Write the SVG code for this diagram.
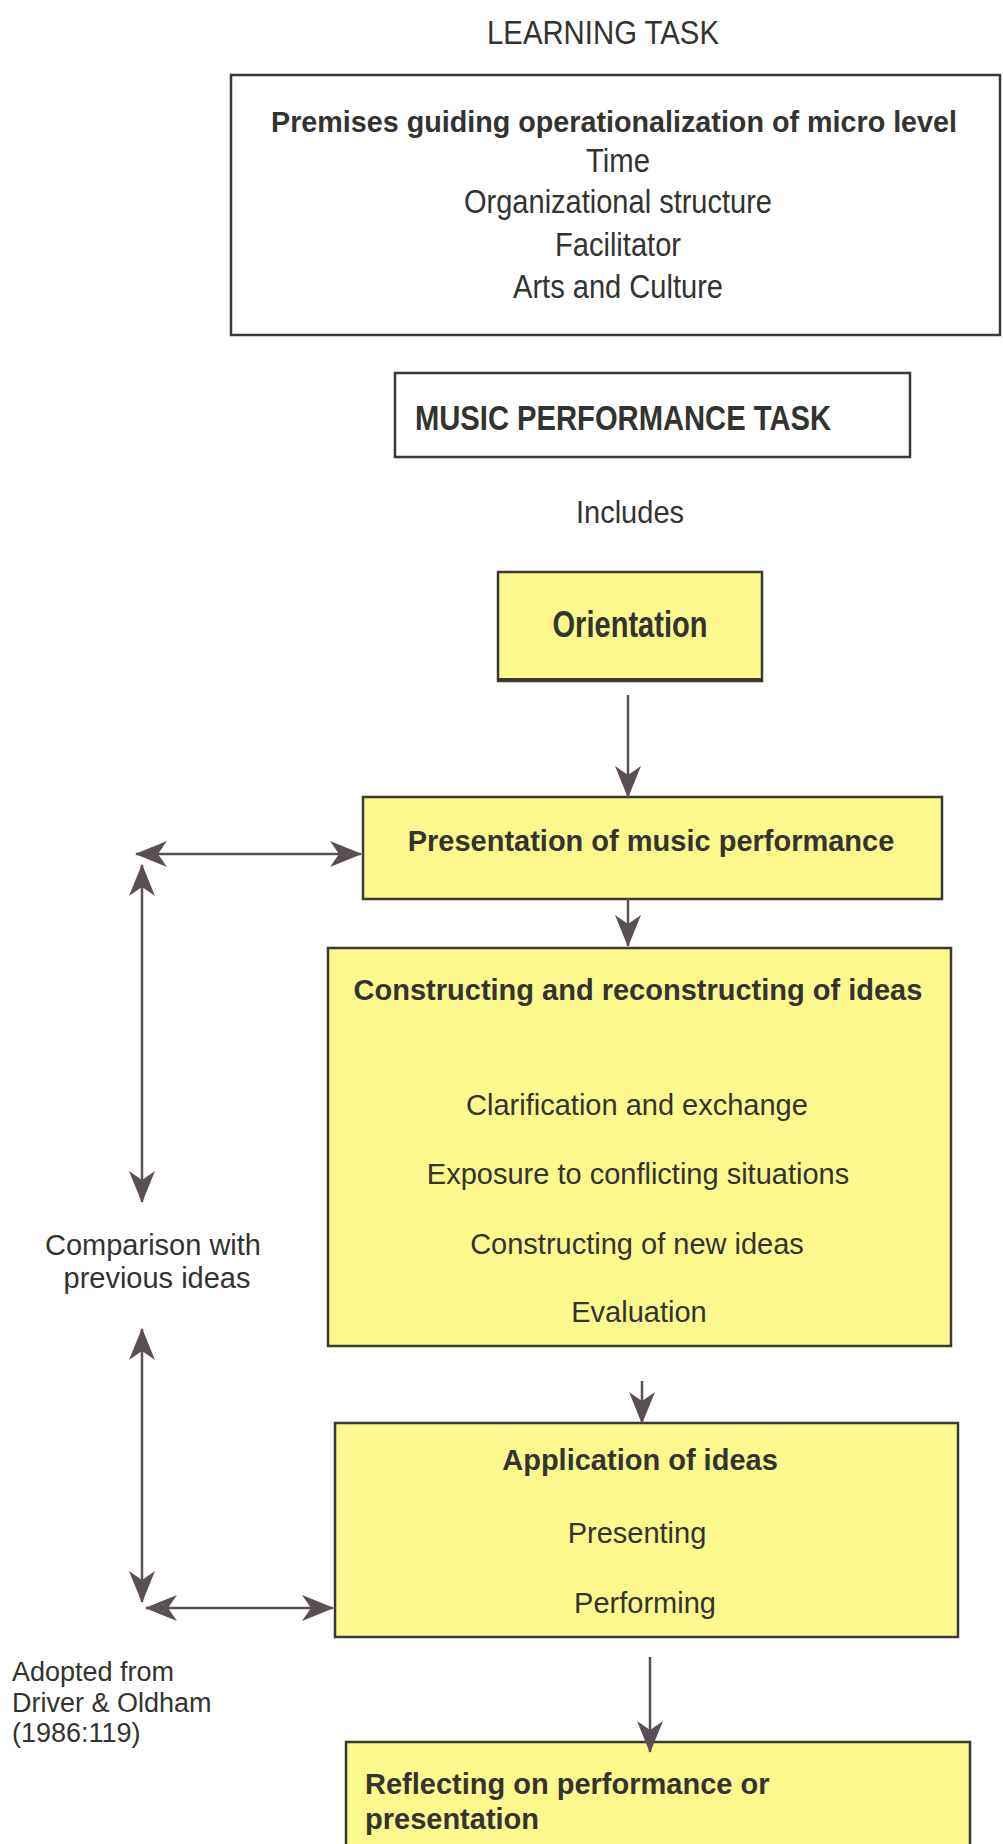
<svg xmlns="http://www.w3.org/2000/svg" width="1003" height="1844" viewBox="0 0 1003 1844">
<style>
text{font-family:"Liberation Sans",Arial,sans-serif;font-size:29px;fill:#333330}
.b{font-weight:bold}
.m{text-anchor:middle}
.sm{font-size:27px}
.tall{font-size:33px}
.plain{fill:#ffffff;stroke:#3a3a33;stroke-width:2.5}
.yel{fill:#fbf88e;stroke:#3a3a33;stroke-width:2.5}
.con{fill:none;stroke:#5a4f55;stroke-width:2.5}
.arr{marker-end:url(#ah)}
.dbl{marker-start:url(#ah);marker-end:url(#ah)}
</style>
<defs>
<marker id="ah" viewBox="0 0 32 26" refX="31" refY="13" markerWidth="32" markerHeight="26" markerUnits="userSpaceOnUse" orient="auto-start-reverse">
<path d="M0,0 L32,13 L0,26 L9,13 Z" fill="#5a4f55"/>
</marker>
</defs>
<rect width="1003" height="1844" fill="#ffffff"/>
<text class="m" x="603" y="44" style="font-size:34px" textLength="232" lengthAdjust="spacingAndGlyphs">LEARNING TASK</text>
<g id="premises">
<rect class="plain" x="231" y="75" width="769" height="260"/>
<text class="m b" x="614" y="132" style="font-size:30px" textLength="686" lengthAdjust="spacingAndGlyphs">Premises guiding operationalization of micro level</text>
<text class="m tall" x="618" y="172" textLength="64" lengthAdjust="spacingAndGlyphs">Time</text>
<text class="m tall" x="618" y="213" textLength="308" lengthAdjust="spacingAndGlyphs">Organizational structure</text>
<text class="m tall" x="618" y="256" textLength="126" lengthAdjust="spacingAndGlyphs">Facilitator</text>
<text class="m tall" x="618" y="298" textLength="210" lengthAdjust="spacingAndGlyphs">Arts and Culture</text>
</g>
<g id="music-task">
<rect class="plain" x="395" y="373" width="515" height="84"/>
<text class="b" x="415" y="430" style="font-size:35px" textLength="416" lengthAdjust="spacingAndGlyphs">MUSIC PERFORMANCE TASK</text>
</g>
<text class="m" x="630" y="523" style="font-size:32px" textLength="108" lengthAdjust="spacingAndGlyphs">Includes</text>
<g id="orientation">
<rect class="yel" x="498" y="572" width="264" height="109"/>
<line x1="498" y1="680" x2="762" y2="680" stroke="#3a3a33" stroke-width="4"/>
<text class="m b" x="630" y="637" style="font-size:37px" textLength="155" lengthAdjust="spacingAndGlyphs">Orientation</text>
</g>
<g id="presentation">
<rect class="yel" x="363" y="797" width="579" height="102"/>
<text class="m b" x="651" y="851">Presentation of music performance</text>
</g>
<g id="constructing">
<rect class="yel" x="328" y="948" width="623" height="398"/>
<text class="m b" x="638" y="1000">Constructing and reconstructing of ideas</text>
<text class="m" x="637" y="1115">Clarification and exchange</text>
<text class="m" x="638" y="1184">Exposure to conflicting situations</text>
<text class="m" x="637" y="1254">Constructing of new ideas</text>
<text class="m" x="639" y="1322">Evaluation</text>
</g>
<g id="application">
<rect class="yel" x="335" y="1423" width="623" height="214"/>
<text class="m b" x="640" y="1470">Application of ideas</text>
<text class="m" x="637" y="1543">Presenting</text>
<text class="m" x="645" y="1613">Performing</text>
</g>
<g id="reflecting">
<rect class="yel" x="346" y="1742" width="624" height="120"/>
<text class="b" x="365" y="1794">Reflecting on performance or</text>
<text class="b" x="365" y="1829">presentation</text>
</g>
<g id="comparison">
<text class="m" x="153" y="1255">Comparison with</text>
<text class="m" x="157" y="1288">previous ideas</text>
</g>
<g id="source">
<text class="sm" x="12" y="1681">Adopted from</text>
<text class="sm" x="12" y="1712">Driver &amp; Oldham</text>
<text class="sm" x="12" y="1742">(1986:119)</text>
</g>
<g id="connectors">
<line class="con arr" x1="628" y1="695" x2="628" y2="797"/>
<line class="con arr" x1="628" y1="899" x2="628" y2="946"/>
<line class="con arr" x1="642" y1="1381" x2="642" y2="1423"/>
<line class="con arr" x1="650" y1="1657" x2="650" y2="1752"/>
<line class="con dbl" x1="136" y1="854" x2="361" y2="854"/>
<line class="con dbl" x1="142" y1="865" x2="142" y2="1202"/>
<line class="con dbl" x1="142" y1="1329" x2="142" y2="1602"/>
<line class="con dbl" x1="146" y1="1608" x2="333" y2="1608"/>
</g>
</svg>
